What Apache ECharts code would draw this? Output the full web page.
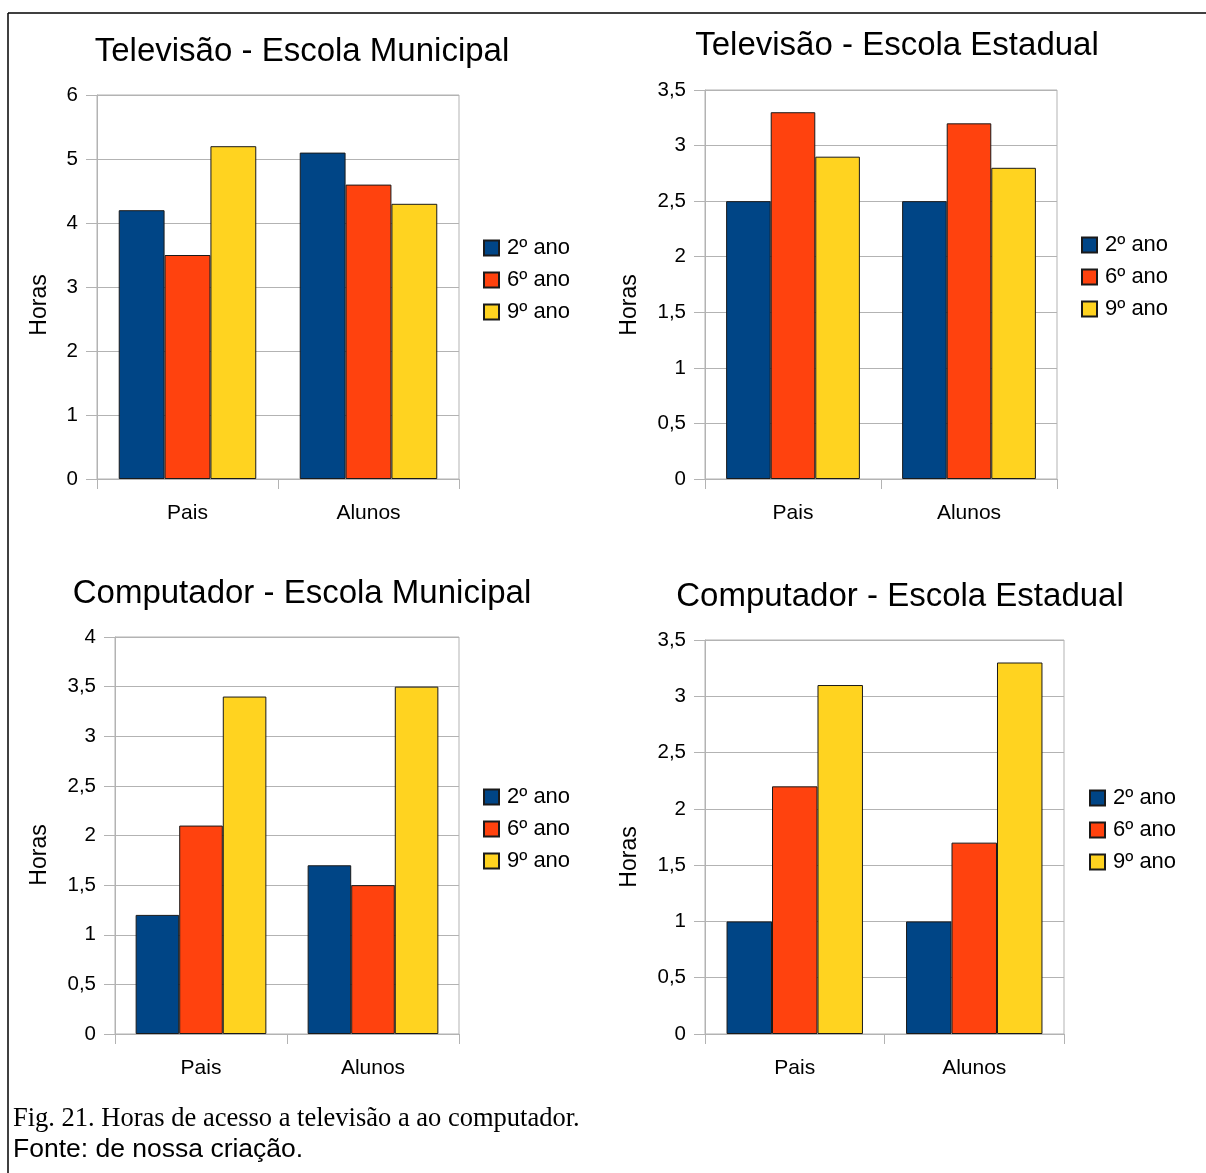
<!DOCTYPE html>
<html>
<head>
<meta charset="utf-8">
<script src="https://cdn.jsdelivr.net/npm/echarts@6/dist/echarts.min.js"></script>
<style>
  html, body { margin: 0; padding: 0; background: #fff; }
  #chart { width: 1206px; height: 1173px; }
</style>
</head>
<body>
<div id="chart"></div>
<script>
// Categories and series
const categories = ['Pais', 'Alunos'];
const seriesNames = ['2º ano', '6º ano', '9º ano'];
const seriesColors = ['#004586', '#ff420e', '#ffd320'];

// Hours of TV - municipal school
const tvMunicipal2 = [4.2, 5.1];
const tvMunicipal6 = [3.5, 4.6];
const tvMunicipal9 = [5.2, 4.3];

// Hours of TV - state school
const tvEstadual2 = [2.5, 2.5];
const tvEstadual6 = [3.3, 3.2];
const tvEstadual9 = [2.9, 2.8];

// Hours of computer - municipal school
const compMunicipal2 = [1.2, 1.7];
const compMunicipal6 = [2.1, 1.5];
const compMunicipal9 = [3.4, 3.5];

// Hours of computer - state school
const compEstadual2 = [1.0, 1.0];
const compEstadual6 = [2.2, 1.7];
const compEstadual9 = [3.1, 3.3];

// Chart titles and value-axis ranges
const chartTitles = [
  'Televisão - Escola Municipal',
  'Televisão - Escola Estadual',
  'Computador - Escola Municipal',
  'Computador - Escola Estadual'
];
const yMaxes = [6, 3.5, 4, 3.5];
const yIntervals = [1, 0.5, 0.5, 0.5];
const yAxisName = 'Horas';
const captionLine1 = 'Fig. 21. Horas de acesso a televisão a ao computador.';
const captionLine2 = 'Fonte: de nossa criação.';

const panelData = [
  [tvMunicipal2, tvMunicipal6, tvMunicipal9],
  [tvEstadual2, tvEstadual6, tvEstadual9],
  [compMunicipal2, compMunicipal6, compMunicipal9],
  [compEstadual2, compEstadual6, compEstadual9]
];

// Layout of the four panels
const gridBoxes = [
  { left: 97, top: 95, width: 362, height: 384 },
  { left: 705, top: 90, width: 352, height: 389 },
  { left: 115, top: 637, width: 344, height: 397 },
  { left: 705, top: 640, width: 359, height: 394 }
];
const titlePos = [
  { x: 302, y: 35 },
  { x: 897, y: 29 },
  { x: 302, y: 577 },
  { x: 900, y: 580 }
];
const legendPos = [
  { x: 483, y: 237 },
  { x: 1081, y: 234 },
  { x: 483, y: 786 },
  { x: 1089, y: 787 }
];
const namePos = [
  { x: 40, y: 305 },
  { x: 630, y: 305 },
  { x: 40, y: 855 },
  { x: 630, y: 857 }
];

const FONT = '"Liberation Sans", Arial, sans-serif';
const GRAY = '#b3b3b3';

const chart = echarts.init(document.getElementById('chart'), null, { renderer: 'canvas' });

const grids = [], xAxes = [], yAxes = [], series = [], titles = [], legends = [], graphics = [];

gridBoxes.forEach((g, i) => {
  grids.push({
    left: g.left, top: g.top, width: g.width, height: g.height,
    show: true, borderColor: GRAY, borderWidth: 1, backgroundColor: 'transparent'
  });
  xAxes.push({
    type: 'category', gridIndex: i, data: categories,
    axisLine: { lineStyle: { color: GRAY, width: 1 } },
    axisTick: { show: true, length: 10, lineStyle: { color: GRAY } },
    axisLabel: { color: '#000', fontFamily: FONT, fontSize: 21, margin: 24 },
    splitLine: { show: false }
  });
  yAxes.push({
    type: 'value', gridIndex: i, min: 0, max: yMaxes[i], interval: yIntervals[i],
    axisLine: { show: true, lineStyle: { color: GRAY, width: 1 } },
    axisTick: { show: true, length: 11, lineStyle: { color: GRAY } },
    axisLabel: {
      color: '#000', fontFamily: FONT, fontSize: 20.5, margin: 19,
      formatter: v => String(v).replace('.', ',')
    },
    splitLine: { show: true, lineStyle: { color: GRAY, width: 1 } }
  });
  panelData[i].forEach((values, s) => {
    series.push({
      type: 'bar', name: seriesNames[s], xAxisIndex: i, yAxisIndex: i,
      data: values, barGap: '0%', barCategoryGap: '24%',
      itemStyle: { color: seriesColors[s], borderColor: '#1a1a1a', borderWidth: 1 },
      emphasis: { disabled: true },
      animation: false
    });
  });
  titles.push({
    text: chartTitles[i], left: titlePos[i].x, top: titlePos[i].y, textAlign: 'center',
    padding: 0,
    textStyle: { color: '#000', fontFamily: FONT, fontSize: 33, fontWeight: 'normal' }
  });
  legends.push({
    data: seriesNames, orient: 'vertical', left: legendPos[i].x, top: legendPos[i].y,
    itemWidth: 15, itemHeight: 15, itemGap: 10, padding: 0, icon: 'rect',
    selectedMode: false,
    textStyle: { color: '#000', fontFamily: FONT, fontSize: 22, padding: [0, 0, 0, 3] }
  });
  graphics.push({
    type: 'text', x: namePos[i].x, y: namePos[i].y, rotation: Math.PI / 2,
    style: {
      text: yAxisName, fill: '#000', font: '23px ' + FONT,
      textAlign: 'center', textVerticalAlign: 'middle'
    }
  });
});

// Page frame and caption
graphics.push(
  { type: 'line', shape: { x1: 8, y1: 13, x2: 1206, y2: 13 }, style: { stroke: '#000', lineWidth: 1.5 } },
  { type: 'line', shape: { x1: 8, y1: 13, x2: 8, y2: 1173 }, style: { stroke: '#000', lineWidth: 1.5 } },
  {
    type: 'text', x: 13, y: 1119,
    style: { text: captionLine1, fill: '#000', font: '26.5px "Liberation Serif", "Times New Roman", serif', textVerticalAlign: 'middle' }
  },
  {
    type: 'text', x: 13, y: 1150,
    style: { text: captionLine2, fill: '#000', font: '26.5px ' + FONT, textVerticalAlign: 'middle' }
  }
);

chart.setOption({
  animation: false,
  backgroundColor: '#fff',
  title: titles,
  legend: legends,
  grid: grids,
  xAxis: xAxes,
  yAxis: yAxes,
  series: series,
  graphic: graphics
});
</script>
</body>
</html>
